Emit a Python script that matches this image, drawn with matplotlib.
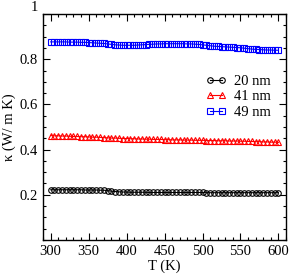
import numpy as np
import matplotlib
matplotlib.use('Agg')
import matplotlib.pyplot as plt
from matplotlib.ticker import MultipleLocator

plt.rcParams['font.family'] = ['Liberation Serif', 'DejaVu Serif']

T = np.arange(300, 605, 5)

k_20nm = [0.222, 0.222, 0.222, 0.222, 0.222, 0.222, 0.222, 0.222, 0.222, 0.221,
          0.221, 0.221, 0.221, 0.220, 0.220, 0.218, 0.216, 0.214, 0.213, 0.212,
          0.212, 0.211, 0.211, 0.211, 0.211, 0.211, 0.210, 0.210, 0.210, 0.210,
          0.210, 0.210, 0.210, 0.210, 0.210, 0.210, 0.210, 0.210, 0.210, 0.210,
          0.210, 0.209, 0.209, 0.209, 0.209, 0.209, 0.209, 0.209, 0.209, 0.209,
          0.209, 0.209, 0.209, 0.209, 0.209, 0.209, 0.209, 0.209, 0.209, 0.209, 0.209]

k_41nm = [0.462, 0.461, 0.461, 0.460, 0.460, 0.459, 0.458, 0.458, 0.457, 0.457,
          0.456, 0.455, 0.455, 0.454, 0.453, 0.452, 0.451, 0.451, 0.450, 0.449,
          0.449, 0.448, 0.448, 0.447, 0.447, 0.446, 0.446, 0.445, 0.445, 0.445,
          0.444, 0.444, 0.443, 0.443, 0.443, 0.442, 0.442, 0.442, 0.441, 0.441,
          0.441, 0.440, 0.440, 0.440, 0.439, 0.439, 0.439, 0.438, 0.438, 0.438,
          0.437, 0.437, 0.436, 0.436, 0.435, 0.435, 0.434, 0.434, 0.433, 0.433, 0.432]

k_49nm = [0.877, 0.877, 0.877, 0.877, 0.877, 0.876, 0.876, 0.876, 0.875, 0.875,
          0.874, 0.873, 0.872, 0.871, 0.870, 0.868, 0.866, 0.864, 0.863, 0.862,
          0.862, 0.862, 0.862, 0.863, 0.864, 0.865, 0.866, 0.867, 0.868, 0.868,
          0.869, 0.869, 0.869, 0.869, 0.869, 0.869, 0.868, 0.868, 0.867, 0.866,
          0.864, 0.862, 0.860, 0.858, 0.857, 0.856, 0.855, 0.854, 0.853, 0.852,
          0.851, 0.849, 0.847, 0.845, 0.844, 0.843, 0.842, 0.841, 0.841, 0.840, 0.840]

labels = ['20 nm', '41 nm', '49 nm']

fig = plt.figure(figsize=(2.91, 2.77), dpi=100)
ax = fig.add_axes([0.148, 0.134, 0.835, 0.815])

style = dict(markerfacecolor='none', markersize=4, markeredgewidth=0.8, linewidth=0.8)
ax.plot(T, k_20nm, color='black', marker='o', label=labels[0], **style)
ax.plot(T, k_41nm, color='red', marker='^', label=labels[1], **style)
ax.plot(T, k_49nm, color='blue', marker='s', label=labels[2], **style)

ax.set_xlim(290, 610)
ax.set_ylim(0, 1)
ax.xaxis.set_major_locator(MultipleLocator(50))
ax.xaxis.set_minor_locator(MultipleLocator(10))
ax.yaxis.set_minor_locator(MultipleLocator(0.05))
ax.set_yticks([0.2, 0.4, 0.6, 0.8, 1.0])
ax.set_yticklabels(['0.2', '0.4', '0.6', '0.8', '1'])
ax.get_yticklabels()[-1].set_va('bottom')
ax.tick_params(which='both', direction='in', top=True, right=True, labelsize=10.5, width=0.8)
ax.tick_params(which='major', length=5)
ax.tick_params(which='minor', length=2.5)
for s in ax.spines.values():
    s.set_linewidth(1.0)

ax.set_xlabel('T (K)', fontsize=10.5, labelpad=1)
ax.set_ylabel('κ (W/ m K)', fontsize=10.5, labelpad=3)

ax.legend(loc='upper right', bbox_to_anchor=(0.99, 0.79), frameon=False, numpoints=2,
          fontsize=10.5, handlelength=1.4, handletextpad=0.5, labelspacing=0.15)

fig.savefig('out.png', dpi=100)
